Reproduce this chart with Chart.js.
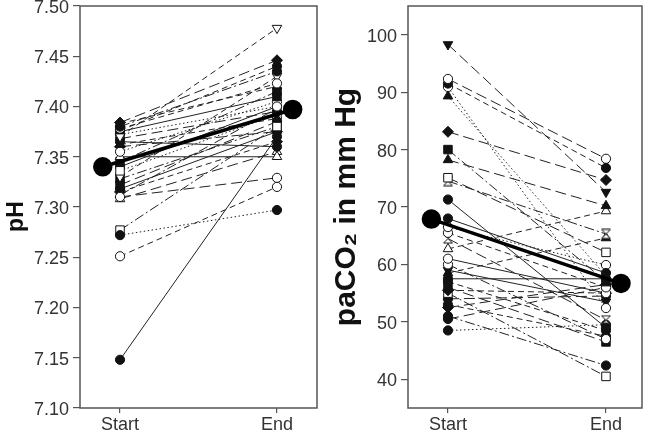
<!DOCTYPE html>
<html><head><meta charset="utf-8">
<script src="https://cdn.jsdelivr.net/npm/chart.js@4.4.1/dist/chart.umd.min.js"></script>
<style>
body{margin:0;background:#fff;width:647px;height:434px;overflow:hidden;position:relative}
.c{position:absolute;top:0;height:434px}
</style></head><body>
<div class="c" style="left:0;width:325px"><canvas id="a"></canvas></div>
<div class="c" style="left:325px;width:322px"><canvas id="b"></canvas></div>
<script>
// ---------- data ----------
const categories = ['Start', 'End'];
const phTicks = [7.10, 7.15, 7.20, 7.25, 7.30, 7.35, 7.40, 7.45, 7.50];
const co2Ticks = [40, 50, 60, 70, 80, 90, 100];

const phStart = [7.148, 7.251, 7.272, 7.277, 7.310, 7.370, 7.384, 7.380, 7.378, 7.375, 7.372, 7.368, 7.365, 7.362, 7.355, 7.350, 7.345, 7.336, 7.330, 7.322, 7.318, 7.315, 7.312, 7.308, 7.376, 7.383, 7.360, 7.340, 7.328];
const phEnd   = [7.370, 7.320, 7.297, 7.380, 7.329, 7.478, 7.446, 7.435, 7.423, 7.410, 7.400, 7.395, 7.360, 7.388, 7.405, 7.350, 7.415, 7.392, 7.430, 7.385, 7.375, 7.365, 7.398, 7.355, 7.440, 7.420, 7.375, 7.400, 7.380];
const phMeans = [7.340, 7.397];

const co2Start = [98.3, 92.3, 91.5, 90.9, 89.3, 83.1, 80.0, 78.2, 75.1, 74.5, 71.3, 68.0, 66.5, 65.5, 64.5, 62.7, 61.0, 60.0, 59.0, 57.5, 57.0, 56.0, 55.5, 55.0, 54.0, 53.0, 52.5, 51.0, 50.5, 48.5, 58.5];
const co2End   = [72.6, 78.4, 76.8, 52.4, 58.0, 74.7, 57.0, 70.2, 62.1, 65.3, 49.0, 58.5, 59.9, 56.0, 50.3, 69.3, 55.0, 47.0, 53.5, 57.5, 48.5, 46.5, 55.0, 40.5, 54.5, 47.5, 56.5, 42.4, 56.0, 49.5, 64.6];
const co2Means = [67.9, 56.7];

// ---------- styles (kept apart from the data) ----------
const phMarkers = ['fc','oc','fc','os','oc','ov','fd','fc','oc','fs','oc','fc','fc','ft','oc','ot','fs','os','ov','fs','fc','fd','ft','ot','fc','ft','fd','fc','fs'];
const phDashes  = ['s','d','o','dd','l','d','l','dd','d','s','o','l','s','d','o','s','dd','o','d','l','s','d','dd','l','d','d','l','s','dd'];
const co2Markers = ['fv','oc','fc','oc','ft','fd','fs','ft','os','oh','fc','fc','oc','oc','oh','ot','oc','oc','fv','fc','fc','fs','fd','os','fc','fc','fd','fc','fc','fc','ft'];
const co2Dashes  = ['l','l','d','o','o','l','dd','l','l','dd','s','s','o','d','l','d','s','dd','s','s','d','l','d','dd','l','d','l','dd','l','o','d'];

const FONT = "'Liberation Sans', Arial, sans-serif";
const dashMap = {s: [], d: [6, 4], l: [11, 5], dd: [10, 3, 2, 3], o: [1.5, 2.5]};

function hourglass(filled) {
  const c = document.createElement('canvas');
  c.width = 11; c.height = 11;
  const x = c.getContext('2d');
  x.beginPath();
  x.moveTo(1, 1); x.lineTo(10, 1); x.lineTo(1, 10); x.lineTo(10, 10); x.closePath();
  x.fillStyle = filled ? '#111' : '#fff';
  x.fill();
  x.strokeStyle = '#111'; x.lineWidth = 1; x.stroke();
  return c;
}
const HG = {o: hourglass(false), f: hourglass(true)};

function markerProps(code) {
  const filled = code[0] === 'f';
  const k = code[1];
  const bg = filled ? '#111' : '#fff';
  if (k === 'c') return {style: 'circle', rot: 0, r: 4.6, bg};
  if (k === 's') return {style: 'rect', rot: 0, r: 6, bg};
  if (k === 't') return {style: 'triangle', rot: 0, r: 5.5, bg};
  if (k === 'v') return {style: 'triangle', rot: 180, r: 5.5, bg};
  if (k === 'd') return {style: 'rectRot', rot: 0, r: 5.5, bg};
  return {style: HG[code[0]], rot: 0, r: 5, bg};
}

function buildDatasets(starts, ends, markers, dashes, means, meanX) {
  const ds = [{
    data: [{x: meanX[0], y: means[0]}, {x: meanX[1], y: means[1]}],
    borderColor: '#000', borderWidth: 3.5, pointRadius: 8,
    pointBackgroundColor: '#000', pointBorderColor: '#000', pointStyle: 'circle'
  }];
  starts.forEach((s, i) => {
    const m = markerProps(markers[i]);
    ds.push({
      data: [{x: 0, y: s}, {x: 1, y: ends[i]}],
      borderColor: '#222', borderWidth: 1, borderDash: dashMap[dashes[i]],
      pointStyle: m.style, pointRotation: m.rot, pointRadius: m.r,
      pointBackgroundColor: m.bg, pointBorderColor: '#111', pointBorderWidth: 1
    });
  });
  return ds;
}

const frame = {
  id: 'frame',
  afterDraw(chart) {
    const {ctx, chartArea: a} = chart;
    ctx.save();
    ctx.strokeStyle = '#555'; ctx.lineWidth = 1.5;
    ctx.strokeRect(a.left, a.top, a.right - a.left, a.bottom - a.top);
    ctx.restore();
  }
};

function makeChart(id, datasets, yTicks, yMin, yMax, xMin, xMax, yWidth, padRight, title, titleSize, titlePad, fmt) {
  return new Chart(document.getElementById(id), {
    type: 'line',
    data: {datasets},
    plugins: [frame],
    options: {
      responsive: true, maintainAspectRatio: false, animation: false,
      layout: {autoPadding: false, padding: {left: 0, right: padRight, top: 6, bottom: 0}},
      plugins: {legend: {display: false}, tooltip: {enabled: false}},
      scales: {
        x: {
          type: 'linear', min: xMin, max: xMax,
          afterBuildTicks: s => { s.ticks = categories.map((c, i) => ({value: i})); },
          afterFit: s => { s.height = 26; s.paddingLeft = 0; s.paddingRight = 0; },
          border: {display: false},
          grid: {drawOnChartArea: false, drawTicks: true, tickLength: 5, color: '#555', lineWidth: 1.2},
          ticks: {callback: v => categories[v], color: '#333', font: {family: FONT, size: 18}, padding: 1, maxRotation: 0}
        },
        y: {
          type: 'linear', min: yMin, max: yMax,
          afterBuildTicks: s => { s.ticks = yTicks.map(v => ({value: v})); },
          afterFit: s => { s.width = yWidth; s.paddingTop = 0; s.paddingBottom = 0; },
          border: {display: false},
          grid: {drawOnChartArea: false, drawTicks: true, tickLength: 7, color: '#555', lineWidth: 1.2},
          ticks: {callback: fmt, color: '#333', font: {family: FONT, size: 18}, padding: 4, labelOffset: 2},
          title: {display: true, text: title, color: '#111', font: {family: FONT, size: titleSize, weight: 'bold'}, padding: titlePad}
        }
      }
    }
  });
}

makeChart('a', buildDatasets(phStart, phEnd, phMarkers, phDashes, phMeans, [-0.11, 1.1]),
  phTicks, 7.10, 7.50, -0.255, 1.255, 80, 8, 'pH   ', 23, {top: 3, bottom: 0}, v => v.toFixed(2));
makeChart('b', buildDatasets(co2Start, co2End, co2Markers, co2Dashes, co2Means, [-0.105, 1.095]),
  co2Ticks, 35, 105, -0.253, 1.228, 83, 5, 'paCO\u2082 in mm Hg', 30, {top: 4, bottom: 0}, v => String(v));
</script>
</body></html>
